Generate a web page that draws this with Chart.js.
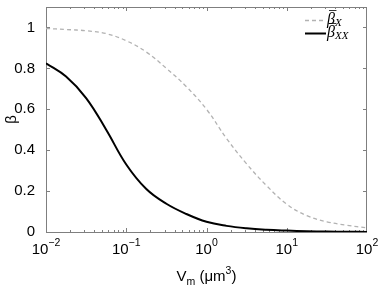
<!DOCTYPE html>
<html>
<head>
<meta charset="utf-8">
<script src="https://cdn.jsdelivr.net/npm/chart.js@4.4.0/dist/chart.umd.min.js"></script>
<style>
  html, body { margin: 0; padding: 0; background: #fff; }
  canvas { display: block; }
</style>
</head>
<body>
<canvas id="chart" width="382" height="288"></canvas>
<script>
// V_m values (um^3), quarter decades from 1e-2 to 1e2
const volumes = [0.01, 0.01778, 0.03162, 0.05623, 0.1, 0.1778, 0.3162, 0.5623, 1,
  1.778, 3.162, 5.623, 10, 17.78, 31.62, 56.23, 100];
// dashed grey curve, beta-bar_X
const betaX = [0.995, 0.99, 0.984, 0.97, 0.935, 0.88, 0.80, 0.71, 0.60,
  0.457, 0.333, 0.226, 0.136, 0.08, 0.05, 0.033, 0.02];
// solid black curve, beta-bar_XX
const betaXX = [0.825, 0.76, 0.655, 0.5, 0.33, 0.21, 0.138, 0.088, 0.05,
  0.03, 0.018, 0.011, 0.007, 0.004, 0.002, 0.001, 0.0005];

const xTickValues = [0.01, 0.1, 1, 10, 100];
const xTickBase = "10";
const xTickExponents = ["−2", "−1", "0", "1", "2"];
const yTickValues = [0, 0.2, 0.4, 0.6, 0.8, 1];
const yTickLabels = ["0", "0.2", "0.4", "0.6", "0.8", "1"];
const legendSubscripts = ["X", "XX"];

const FONT = "'Liberation Sans', Arial, Helvetica, sans-serif";
const AXIS_GREY = "#7f7f7f";

// box round the plot with inward ticks on all four sides
const framePlugin = {
  id: "frame",
  beforeDatasetsDraw(chart) {
    const { ctx, chartArea: a, scales } = chart;
    const x = scales.x, y = scales.y;
    ctx.save();
    ctx.strokeStyle = AXIS_GREY;
    ctx.lineWidth = 1;
    ctx.strokeRect(a.left + 0.5, a.top + 0.5, a.width - 1, a.height);
    ctx.beginPath();
    for (let d = -2; d < 2; d++) {
      for (let m = 1; m <= 9; m++) {
        const px = Math.round(x.getPixelForValue(m * Math.pow(10, d))) + 0.5;
        const len = m === 1 ? 4 : 2;
        ctx.moveTo(px, a.bottom); ctx.lineTo(px, a.bottom - len);
        ctx.moveTo(px, a.top); ctx.lineTo(px, a.top + len);
      }
    }
    yTickValues.forEach(v => {
      const py = Math.round(y.getPixelForValue(v)) + 0.5;
      ctx.moveTo(a.left, py); ctx.lineTo(a.left + 4, py);
      ctx.moveTo(a.right, py); ctx.lineTo(a.right - 4, py);
    });
    ctx.stroke();
    ctx.restore();
  }
};

// x tick labels with raised exponents, and the x title with sub/superscript
const xLabelsPlugin = {
  id: "xLabels",
  afterDraw(chart) {
    const { ctx, scales: { x } } = chart;
    ctx.save();
    ctx.fillStyle = "#000";
    ctx.textBaseline = "alphabetic";
    ctx.textAlign = "left";
    const big = "15px " + FONT, small = "10.5px " + FONT;
    xTickValues.forEach((v, i) => {
      const px = x.getPixelForValue(v);
      ctx.font = big;
      const wb = ctx.measureText(xTickBase).width;
      ctx.font = small;
      const we = ctx.measureText(xTickExponents[i]).width;
      const x0 = px - (wb + we) / 2;
      ctx.font = big;
      ctx.fillText(xTickBase, x0, 254);
      ctx.font = small;
      ctx.fillText(xTickExponents[i], x0 + wb, 246);
    });
    // title: V_m (um^3)
    const parts = [["V", big, 0], ["m", small, 4], [" (μm", big, 0], ["3", small, -7], [")", big, 0]];
    let total = 0;
    parts.forEach(p => { ctx.font = p[1]; total += ctx.measureText(p[0]).width; });
    let cx = (chart.chartArea.left + chart.chartArea.right) / 2 - total / 2;
    parts.forEach(p => {
      ctx.font = p[1];
      ctx.fillText(p[0], cx, 281 + p[2]);
      cx += ctx.measureText(p[0]).width;
    });
    ctx.restore();
  }
};

// legend drawn inside the top-right corner of the plot
const legendPlugin = {
  id: "innerLegend",
  afterDraw(chart) {
    const { ctx, chartArea: a } = chart;
    ctx.save();
    chart.data.datasets.forEach((ds, i) => {
      const ly = a.top + 13 + i * 13;
      const x0 = a.right - 62;
      ctx.strokeStyle = ds.borderColor;
      ctx.lineWidth = ds.borderWidth;
      ctx.setLineDash(ds.borderDash || []);
      ctx.beginPath();
      ctx.moveTo(x0, ly + 0.5); ctx.lineTo(x0 + 21, ly + 0.5);
      ctx.stroke();
      ctx.setLineDash([]);
      ctx.fillStyle = "#000";
      ctx.textBaseline = "alphabetic";
      ctx.font = "italic 16px 'Liberation Serif', 'DejaVu Serif', serif";
      const tx = x0 + 22;
      ctx.fillText("β", tx, ly + 4);
      const bw = ctx.measureText("β").width;
      ctx.lineWidth = 0.8;
      ctx.strokeStyle = "#000";
      ctx.beginPath();
      ctx.moveTo(tx + 2, ly - 9.5); ctx.lineTo(tx + bw + 1.5, ly - 9.5);
      ctx.stroke();
      ctx.font = "italic 11px 'Liberation Serif', serif";
      ctx.fillText(legendSubscripts[i], tx + bw, ly + 6);
    });
    ctx.restore();
  }
};

new Chart(document.getElementById("chart").getContext("2d"), {
  type: "line",
  data: {
    labels: volumes,
    datasets: [
      {
        label: "β̄X",
        data: volumes.map((v, i) => ({ x: v, y: betaX[i] })),
        borderColor: "#b2b2b2",
        borderWidth: 1.3,
        borderDash: [4, 3],
        pointRadius: 0,
        tension: 0.4,
        fill: false,
      },
      {
        label: "β̄XX",
        data: volumes.map((v, i) => ({ x: v, y: betaXX[i] })),
        borderColor: "#000000",
        borderWidth: 2,
        pointRadius: 0,
        tension: 0.4,
        fill: false,
      },
    ],
  },
  options: {
    responsive: false,
    animation: false,
    devicePixelRatio: 1,
    layout: { padding: { top: 7, right: 15, left: 0, bottom: 0 } },
    plugins: { legend: { display: false }, tooltip: { enabled: false } },
    scales: {
      x: {
        type: "logarithmic",
        min: 0.01,
        max: 100,
        border: { display: false },
        grid: { display: false },
        afterBuildTicks: s => { s.ticks = xTickValues.map(v => ({ value: v })); },
        afterFit: s => { s.height = 56; s.paddingLeft = 0; s.paddingRight = 0; },
        ticks: { display: false },
        title: { display: false },
      },
      y: {
        min: 0,
        max: 1.1,
        border: { display: false },
        grid: { display: false },
        afterBuildTicks: s => { s.ticks = yTickValues.map(v => ({ value: v })); },
        afterFit: s => { s.width = 46; s.paddingTop = 0; s.paddingBottom = 0; },
        ticks: {
          color: "#000",
          font: { family: FONT, size: 15 },
          padding: 3,
          callback: (v, i) => yTickLabels[i],
        },
        title: {
          display: true,
          text: "β",
          color: "#000",
          font: { family: FONT, size: 15 },
          padding: { top: 3, bottom: 0 },
        },
      },
    },
  },
  plugins: [framePlugin, xLabelsPlugin, legendPlugin],
});
</script>
</body>
</html>
